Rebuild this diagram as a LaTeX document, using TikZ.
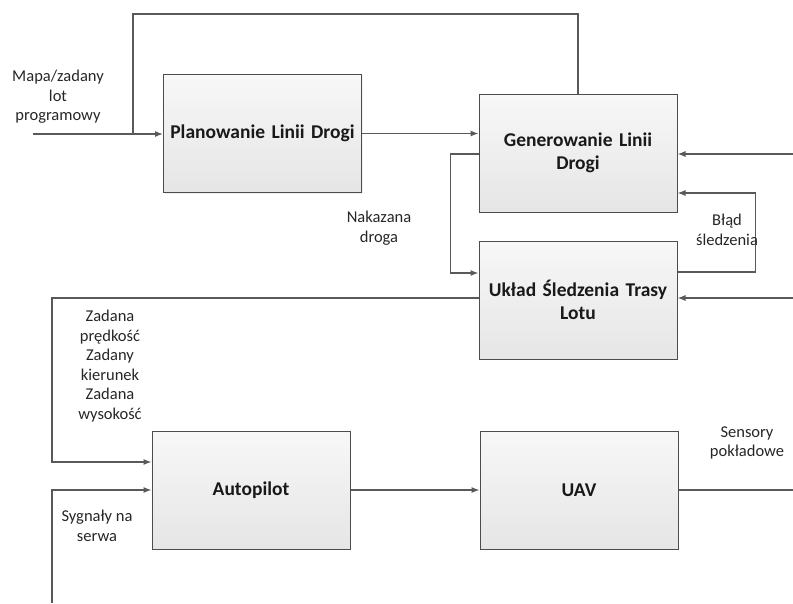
\documentclass[tikz,border=0pt]{standalone}
\usepackage{fontspec}
\setmainfont{Carlito}
\usepackage{tikz}
\usetikzlibrary{arrows.meta, positioning, calc, shadows}

\begin{document}
\begin{tikzpicture}[
    x=1pt, y=-1pt,
    block/.style={rectangle, draw=black!70, line width=1pt, top color=white!97!black, bottom color=white!90!black,
        minimum width=198pt, minimum height=118pt, text width=185pt, align=center,
        font=\fontsize{19.5}{23}\selectfont\bfseries, text=black!90,
        drop shadow={shadow xshift=1.2pt, shadow yshift=-1.2pt, opacity=0.12}},
    line/.style={draw=black!65, line width=1.1pt},
    arrow/.style={line, -{Latex[length=8pt, width=6pt]}},
    lbl/.style={align=center, text=black!85, font=\fontsize{16.5}{19.6}\selectfont},
]
\useasboundingbox (0,0) rectangle (793,603);

% Nodes
\node[block] (plan) at (262.5,133.5) {Planowanie Linii Drogi};
\node[block] (gen) at (578,153) {Generowanie Linii\\Drogi};
\node[block, below=28pt of gen] (uklad) {Układ Śledzenia Trasy\\Lotu};
\node[block] (auto) at (251,490) {Autopilot};
\node[block, right=129pt of auto] (uav) {UAV};

% Free ends
\coordinate (in) at (33,134);
\coordinate (split) at (133,134);
\coordinate (top) at (0,14);
\coordinate (lft) at (52,0);
\coordinate (bot) at (52,603);
\coordinate (rgen) at (793,154);
\coordinate (rukl) at (793,298);
\coordinate (ruav) at (793,490);

% Arrows
\draw[arrow] (in) -- (in -| plan.west);
\draw[line] (split) -- (split |- top) -| (gen.north);
\draw[arrow] (plan.east) -- (plan.east -| gen.west);
\draw[arrow] ([yshift=-1pt]gen.west) -- ++(-28,0) |- ([yshift=27pt]uklad.west);
\draw[arrow] (rgen) -- (rgen -| gen.east);
\draw[arrow] ([yshift=28pt]uklad.east) -- ++(78,0) |- ([yshift=-40pt]gen.east);
\draw[arrow] (rukl) -- (rukl -| uklad.east);
\draw[arrow] (uklad.west |- rukl) -- (lft |- rukl) |- ([yshift=28pt]auto.west);
\draw[arrow] (bot) |- (auto.west);
\draw[arrow] (auto) -- (uav);
\draw[line] (uav) -- (ruav);

% Labels
\node[lbl] (mapa) at (58,97) {Mapa/zadany\\lot\\programowy};
\node[lbl] (nakaz) at (379,228) {Nakazana\\droga};
\node[lbl] (blad) at (727,230) {Błąd\\śledzenia};
\node[lbl] (zadane) at (110,366) {Zadana\\prędkość\\Zadany\\kierunek\\Zadana\\wysokość};
\node[lbl] (sygn) at (97,526) {Sygnały na\\serwa};
\node[lbl] (sens) at (747,443) {Sensory\\pokładowe};

\end{tikzpicture}
\end{document}
